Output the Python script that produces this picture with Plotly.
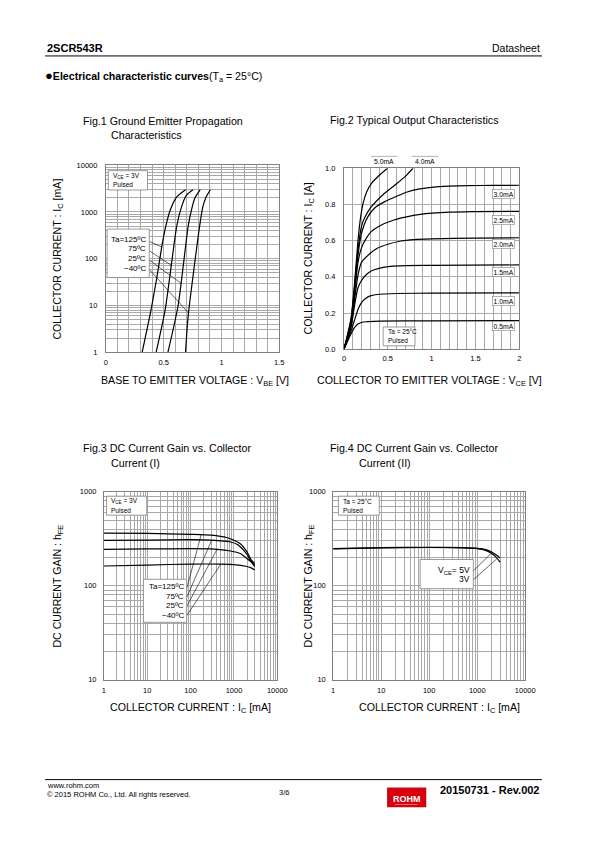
import numpy as np
import plotly.graph_objects as go

W, H = 595, 842
FONT = "Liberation Sans, Arial, sans-serif"
GRID = "#a8a8a8"
FRAME = "#808080"
CURVE_W = 1.2

# ---------------- Fig.1 data : Ic [mA] vs Vbe [V] ----------------
fig1_labels = ["Ta=125ºC", "75ºC", "25ºC", "−40ºC"]
vbe_125 = [0.314, 0.392, 0.443, 0.489, 0.519, 0.557, 0.613, 0.689]
ic1_125 = [1, 8.4, 42.6, 216, 503, 1100, 2100, 3000]
vbe_75 = [0.435, 0.514, 0.613, 0.655, 0.697, 0.754]
ic1_75 = [1, 8.4, 500, 1300, 2300, 3000]
vbe_25 = [0.537, 0.625, 0.712, 0.740, 0.768, 0.816]
ic1_25 = [1, 10, 500, 1100, 1950, 3000]
vbe_m40 = [0.689, 0.712, 0.811, 0.839, 0.867, 0.904]
ic1_m40 = [1, 6, 500, 1300, 2100, 3000]
fig1_leader_ic = [178, 72, 30, 6.9]

# ---------------- Fig.2 data : Ic [A] vs Vce [V] ----------------
fig2_labels = ["0.5mA", "1.0mA", "1.5mA", "2.0mA", "2.5mA", "3.0mA", "4.0mA", "5.0mA"]
vce_05 = [0, 0.08, 0.12, 0.16, 0.2, 0.25, 0.4, 1.0, 2.0]
ic2_05 = [0, 0.085, 0.12, 0.14, 0.148, 0.152, 0.155, 0.157, 0.158]
vce_10 = [0, 0.08, 0.12, 0.16, 0.2, 0.25, 0.3, 0.4, 0.6, 1.0, 2.0]
ic2_10 = [0, 0.10, 0.16, 0.22, 0.258, 0.282, 0.295, 0.304, 0.308, 0.31, 0.312]
vce_15 = [0, 0.08, 0.12, 0.16, 0.2, 0.25, 0.31, 0.4, 0.53, 0.7, 1.0, 2.0]
ic2_15 = [0, 0.12, 0.24, 0.34, 0.38, 0.41, 0.432, 0.447, 0.458, 0.462, 0.463, 0.466]
vce_20 = [0, 0.08, 0.12, 0.16, 0.2, 0.3, 0.38, 0.5, 0.65, 0.8, 1.0, 1.5, 2.0]
ic2_20 = [0, 0.13, 0.27, 0.41, 0.48, 0.53, 0.558, 0.58, 0.598, 0.606, 0.61, 0.614, 0.616]
vce_25 = [0, 0.08, 0.12, 0.16, 0.2, 0.25, 0.31, 0.4, 0.57, 0.7, 0.87, 1.2, 1.5, 2.0]
ic2_25 = [0, 0.14, 0.30, 0.48, 0.56, 0.61, 0.65, 0.68, 0.714, 0.73, 0.745, 0.757, 0.76, 0.762]
vce_30 = [0, 0.08, 0.12, 0.16, 0.2, 0.27, 0.35, 0.46, 0.6, 0.72, 0.85, 1.02, 1.2, 1.4, 1.7, 2.0]
ic2_30 = [0, 0.15, 0.32, 0.52, 0.64, 0.73, 0.78, 0.814, 0.845, 0.869, 0.885, 0.896, 0.901, 0.904, 0.905, 0.906]
vce_40 = [0, 0.08, 0.12, 0.16, 0.2, 0.24, 0.3, 0.38, 0.46, 0.6, 0.7, 0.786]
ic2_40 = [0, 0.16, 0.34, 0.55, 0.68, 0.73, 0.78, 0.823, 0.86, 0.914, 0.955, 1.0]
vce_50 = [0, 0.08, 0.12, 0.16, 0.19, 0.22, 0.26, 0.31, 0.4, 0.497]
ic2_50 = [0, 0.17, 0.36, 0.60, 0.73, 0.81, 0.87, 0.914, 0.96, 1.0]

# ---------------- Fig.3 data : hFE vs Ic [mA] ----------------
fig3_labels = ["Ta=125ºC", "75ºC", "25ºC", "−40ºC"]
ic3_125 = [1, 10, 100, 300, 700, 1000, 1400, 2000, 2500, 3000]
hfe3_125 = [362, 360, 352, 345, 324, 305, 280, 229, 188, 172]
ic3_75 = [1, 10, 100, 300, 835, 1200, 1680, 2000, 2370, 3000]
hfe3_75 = [303, 306, 309, 305, 292, 275, 238, 215, 187, 165]
ic3_25 = [1, 10, 100, 300, 835, 1400, 1990, 2500, 3000]
hfe3_25 = [244, 246, 248, 246, 234, 220, 195, 178, 160]
ic3_m40 = [1, 10, 100, 500, 1000, 1990, 2500, 3000]
hfe3_m40 = [162, 166, 170, 170, 168, 160, 155, 147]
fig3_leader_ic = [175, 306, 403, 497]

# ---------------- Fig.4 data : hFE vs Ic [mA] ----------------
ic4 = [1, 10, 100, 500, 1000, 1500, 2000, 2500, 3000]
hfe4_5v = [248, 254, 256, 254, 250, 242, 228, 212, 197]
hfe4_3v = [247, 253, 255, 253, 248, 238, 220, 200, 178]
fig4_leader_ic = [2050, 2600]


def sub(s, size):
    """Subscript as a shifted, smaller span (no zero-width helper glyphs)."""
    return ("<span style='font-size:%.1fpx;baseline-shift:-%.1fpx'>%s</span>"
            % (size * 0.7, size * 0.22, s))


fig4_labels = ["V" + sub("CE", 8.5) + "= 5V", "3V"]

# ---------------- plot boxes (pixels) ----------------
BOX1 = (106, 283, 163, 352)
BOX2 = (349, 528, 166, 349)
BOX3 = (104, 281, 493, 683)
BOX4 = (338, 534, 493, 683)


def px(x):
    return x / W


def py(y):
    return 1 - y / H


def dom_x(b):
    return [px(b[0]), px(b[1])]


def dom_y(b):
    return [py(b[3]), py(b[2])]


def f1_data(x, y):
    return (x - 106) / 177 * 1.5, 10 ** ((352 - y) / 189 * 4)


def f3_data(x, y):
    return 10 ** ((x - 104) / 177 * 4), 10 ** (1 + (683 - y) / 190 * 2)


def f4_data(x, y):
    return 10 ** ((x - 338) / 196 * 4), 10 ** (1 + (683 - y) / 190 * 2)


fig = go.Figure()


def line(x, y, xa, ya, width=CURVE_W):
    fig.add_trace(go.Scatter(x=x, y=y, mode="lines", xaxis=xa, yaxis=ya,
                             line=dict(color="black", width=width, shape="spline",
                                       smoothing=0.6),
                             hoverinfo="skip", showlegend=False))


def leader(x, y, xa, ya):
    fig.add_trace(go.Scatter(x=x, y=y, mode="lines", xaxis=xa, yaxis=ya,
                             line=dict(color="black", width=0.6),
                             hoverinfo="skip", showlegend=False))


# Fig.1 curves
f1_curves = [(vbe_125, ic1_125), (vbe_75, ic1_75), (vbe_25, ic1_25), (vbe_m40, ic1_m40)]
for v, i in f1_curves:
    line(v, i, "x", "y")
f1_text_y = [240, 249.5, 259, 268.5]
for (v, i), ic_t, ty in zip(f1_curves, fig1_leader_ic, f1_text_y):
    hv = np.interp(np.log10(ic_t), np.log10(i), v)
    tx, tic = f1_data(150.5, ty)
    leader([tx, hv], [tic, ic_t], "x", "y")

# Fig.2 curves
f2_curves = [(vce_05, ic2_05), (vce_10, ic2_10), (vce_15, ic2_15), (vce_20, ic2_20),
             (vce_25, ic2_25), (vce_30, ic2_30), (vce_40, ic2_40), (vce_50, ic2_50)]
for v, i in f2_curves:
    line(v, i, "x2", "y2")

# Fig.3 curves
f3_curves = [(ic3_125, hfe3_125), (ic3_75, hfe3_75), (ic3_25, hfe3_25), (ic3_m40, hfe3_m40)]
for i, h in f3_curves:
    line(i, h, "x3", "y3")
f3_text_y = [591, 600, 609, 618.3]
for (i, h), ic_t, ty in zip(f3_curves, fig3_leader_ic, f3_text_y):
    hh = 10 ** np.interp(np.log10(ic_t), np.log10(i), np.log10(h))
    tx, th = f3_data(188.5, ty)
    leader([tx, ic_t], [th, hh], "x3", "y3")

# Fig.4 curves
f4_curves = [(ic4, hfe4_5v), (ic4, hfe4_3v)]
for i, h in f4_curves:
    line(i, h, "x4", "y4")
f4_text_y = [573.5, 582.5]
for (i, h), ic_t, ty in zip(f4_curves, fig4_leader_ic, f4_text_y):
    hh = 10 ** np.interp(np.log10(ic_t), np.log10(i), np.log10(h))
    tx, th = f4_data(480.5, ty)
    leader([tx, ic_t], [th, hh], "x4", "y4")

# ---------------- axes ----------------
tickfont = dict(family=FONT, size=7.5, color="black")
common = dict(showline=True, mirror=True, linecolor=FRAME, linewidth=0.8,
              showgrid=True, gridcolor=GRID, gridwidth=0.6, zeroline=False,
              ticks="", tickfont=tickfont, fixedrange=True)

lin_minor = lambda d: dict(dtick=d, showgrid=True, gridcolor=GRID, gridwidth=0.6, ticks="")
log_minor = dict(dtick="D1", showgrid=True, gridcolor=GRID, gridwidth=0.6, ticks="")

layout_axes = dict(
    xaxis=dict(domain=dom_x(BOX1), anchor="y", range=[0, 1.5], tick0=0, dtick=0.5,
               minor=lin_minor(0.1), ticklabelstandoff=3, **common),
    yaxis=dict(domain=dom_y(BOX1), anchor="x", type="log", range=[0, 4], dtick=1,
               exponentformat="none", minor=log_minor, ticklabelstandoff=6, **common),
    xaxis2=dict(domain=dom_x(BOX2), anchor="y2", range=[0, 2], tick0=0, dtick=0.5,
                minor=lin_minor(0.1), ticklabelstandoff=2, **common),
    yaxis2=dict(domain=dom_y(BOX2), anchor="x2", range=[0, 1], tick0=0, dtick=0.2,
                tickformat=".1f", ticklabelstandoff=6, **common),
    xaxis3=dict(domain=dom_x(BOX3), anchor="y3", type="log", range=[0, 4], dtick=1,
                exponentformat="none", minor=log_minor, ticklabelstandoff=3, **common),
    yaxis3=dict(domain=dom_y(BOX3), anchor="x3", type="log", range=[1, 3], dtick=1,
                exponentformat="none", minor=log_minor, ticklabelstandoff=5, **common),
    xaxis4=dict(domain=dom_x(BOX4), anchor="y4", type="log", range=[0, 4], dtick=1,
                exponentformat="none", minor=log_minor, ticklabelstandoff=3, **common),
    yaxis4=dict(domain=dom_y(BOX4), anchor="x4", type="log", range=[1, 3], dtick=1,
                exponentformat="none", minor=log_minor, ticklabelstandoff=5, **common),
)

annotations = []
shapes = []


def text(x, y, s, size=10.6, xanchor="left", yanchor="middle", angle=0, bold=False,
         color="black", **kw):
    if bold:
        s = "<b>" + s + "</b>"
    annotations.append(dict(x=px(x), y=py(y), xref="paper", yref="paper", text=s,
                            showarrow=False, xanchor=xanchor, yanchor=yanchor,
                            textangle=angle, font=dict(family=FONT, size=size, color=color),
                            **kw))


def rect(x0, y0, x1, y1, line_color=FRAME, fill="white", width=0.8):
    shapes.append(dict(type="rect", xref="paper", yref="paper", x0=px(x0), x1=px(x1),
                       y0=py(y1), y1=py(y0), line=dict(color=line_color, width=width),
                       fillcolor=fill, layer="above"))


def hline(x0, x1, y, color="black", width=1):
    shapes.append(dict(type="line", xref="paper", yref="paper", x0=px(x0), x1=px(x1),
                       y0=py(y), y1=py(y), line=dict(color=color, width=width)))


# header / footer
text(44, 44, "2SCR543R", size=11, bold=True)
text(551, 44, "Datasheet", size=10.5, xanchor="right")
hline(44, 551, 52.5, width=1)
text(42, 73, "<span style='font-size:13px'>●</span><b>Electrical characteristic curves</b>(T"
     + sub("a", 10.6) + " = 25°C)", size=10.6)
hline(44, 551, 784, width=1)
text(44, 790, "www.rohm.com", size=7.5)
text(44, 799, "© 2015 ROHM Co., Ltd. All rights reserved.", size=7.5)
text(288, 797, "3/6", size=7.5, xanchor="center")
rect(393, 792, 433, 812, line_color="#d7000f", fill="#d7000f", width=0)
text(413, 803.5, "ROHM", size=9, bold=True, xanchor="center", color="white")
text(413, 809.5, "SEMICONDUCTOR", size=2.5, xanchor="center", color="white")
text(551, 794.5, "20150731 - Rev.002", size=11, bold=True, xanchor="right")

# figure titles
text(81, 118, "Fig.1 Ground Emitter Propagation", size=10.7)
text(109, 132.5, "Characteristics", size=10.7)
text(332.5, 117.5, "Fig.2 Typical Output Characteristics", size=10.7)
text(81, 449, "Fig.3 DC Current Gain vs. Collector", size=10.7)
text(109, 464, "Current (I)", size=10.7)
text(333, 449, "Fig.4 DC Current Gain vs. Collector", size=10.7)
text(362.5, 464, "Current (II)", size=10.7)

# axis titles
AT = 10.6
text(197, 381.5, "BASE TO EMITTER VOLTAGE : V" + sub("BE", AT) + " [V]", size=AT,
     xanchor="center")
text(57, 257.5, "COLLECTOR CURRENT : I" + sub("C", AT) + " [mA]", size=AT,
     xanchor="center", angle=-90)
text(436, 381, "COLLECTOR TO EMITTER VOLTAGE : V" + sub("CE", AT) + " [V]", size=AT,
     xanchor="center")
text(313, 257.5, "COLLECTOR CURRENT : I" + sub("C", AT) + " [A]", size=AT,
     xanchor="center", angle=-90)
text(192, 711.5, "COLLECTOR CURRENT : I" + sub("C", AT) + " [mA]", size=AT,
     xanchor="center")
text(57, 588, "DC CURRENT GAIN : h" + sub("FE", AT), size=AT, xanchor="center", angle=-90)
text(446, 711.5, "COLLECTOR CURRENT : I" + sub("C", AT) + " [mA]", size=AT,
     xanchor="center")
text(313, 588, "DC CURRENT GAIN : h" + sub("FE", AT), size=AT, xanchor="center", angle=-90)

# Fig.1 boxes
rect(108.5, 168.5, 148.5, 188)
text(111, 173.5, "V" + sub("CE", 6.5) + " = 3V", size=6.5)
text(111, 182.5, "Pulsed", size=6.5)
rect(107.3, 227.5, 150.3, 276.5)
for lab, ty in zip(fig1_labels, [237.7, 247.5, 257.3, 267.2]):
    text(149.5, ty, lab, size=8, xanchor="right")

# Fig.2 boxes
rect(389, 326.5, 421.5, 345.5)
text(392, 331.5, "Ta = 25°C", size=6.5)
text(392, 340.5, "Pulsed", size=6.5)
f2_label_y = [325.8, 299.8, 270.8, 242.8, 218, 191.7]
for lab, ty in zip(fig2_labels[:6], f2_label_y):
    text(511.5, ty, lab, size=6.8, xanchor="center", bgcolor="white",
         bordercolor=FRAME, borderwidth=0.6, borderpad=1)
for lab, cx in zip(fig2_labels[6:], [431.7, 390.0]):
    text(cx, 159.5, lab, size=6.8, xanchor="center")
    hline(cx - 13.5, cx + 13.5, 154, color="#a0a0a0", width=0.8)

# Fig.3 boxes
rect(106.7, 497.5, 147.7, 516.7)
text(109, 502.5, "V" + sub("CE", 6.5) + " = 3V", size=6.5)
text(109, 511.5, "Pulsed", size=6.5)
rect(144.3, 581.5, 188.5, 625)
for lab, ty in zip(fig3_labels, [589, 598.7, 608.3, 618]):
    text(187.5, ty, lab, size=8, xanchor="right")

# Fig.4 boxes
rect(343.3, 497.5, 385, 516.7)
text(345.5, 502.5, "Ta = 25°C", size=6.5)
text(345.5, 511.5, "Pulsed", size=6.5)
rect(426.7, 561.5, 481, 591)
for lab, ty in zip(fig4_labels, [572.3, 581.7]):
    text(479.5, ty, lab, size=8.5, xanchor="right")

fig.update_layout(
    width=W, height=H, margin=dict(l=0, r=0, t=0, b=0, pad=0),
    paper_bgcolor="white", plot_bgcolor="white", showlegend=False,
    separators=".",
    font=dict(family=FONT, color="black"),
    annotations=annotations, shapes=shapes,
    **layout_axes,
)

PAGE_CSS = ("var s=document.createElement('style');"
            "s.textContent='html,body{margin:0!important;padding:0!important;"
            "overflow:hidden!important;}';"
            "document.head.appendChild(s);")

fig.write_html(
    "out.html",
    config={"displayModeBar": False},
    post_script="});" + PAGE_CSS + "(function(){",
)
